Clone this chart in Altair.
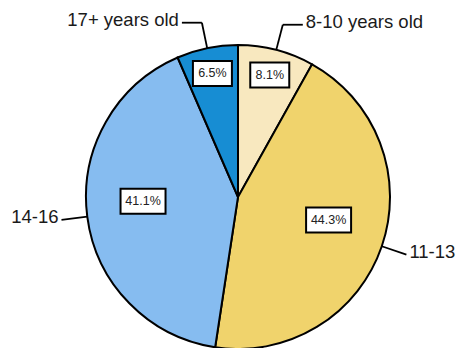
import altair as alt
import pandas as pd

# Age groups, clockwise from 12 o'clock
groups = ["8-10 years old", "11-13", "14-16", "17+ years old"]
shares = [8.1, 44.3, 41.1, 6.5]
colors = ["#F8E8BF", "#F0D36C", "#86BCF0", "#178DD3"]

df = pd.DataFrame({"group": groups, "share": shares, "order": list(range(len(groups)))})

CX, CY, R = 238, 197, 152      # pie centre and radius (px)
LEAD = 26                       # radial length of leader lines
ELBOW = 20                      # horizontal run for labels above the pie
FONT = "Liberation Sans, Arial, sans-serif"

base = alt.Chart(df)

pie = base.mark_arc(radius=R, stroke="black", strokeWidth=2).encode(
    theta=alt.Theta("share:Q", stack=True),
    order=alt.Order("order:Q"),
    color=alt.Color("group:N", scale=alt.Scale(domain=groups, range=colors), legend=None),
    x=alt.value(CX),
    y=alt.value(CY),
)

geo = (
    base.transform_window(cum="sum(share)", sort=[alt.SortField("order")], frame=[None, 0])
    .transform_joinaggregate(total="sum(share)")
    .transform_calculate(a="2*PI*(datum.cum - datum.share/2)/datum.total")
    .transform_calculate(
        ex=f"{CX} + {R}*sin(datum.a)",
        ey=f"{CY} - {R}*cos(datum.a)",
        lx=f"{CX} + {R + LEAD}*sin(datum.a)",
        ly=f"{CY} - {R + LEAD}*cos(datum.a)",
        dir="sin(datum.a) >= 0 ? 1 : -1",
        rf="datum.share < 20 ? 0.83 : 0.63",
        lift="datum.share < 20 ? 0 : 8",
        pct="format(datum.share, '.1f') + '%'",
    )
    .transform_calculate(
        hx=f"datum.lx + datum.dir*(abs(cos(datum.a)) > 0.7 ? {ELBOW} : 0)",
        bx=f"{CX} + {R}*datum.rf*sin(datum.a)",
        by=f"{CY} - {R}*datum.rf*cos(datum.a) - datum.lift",
        bw="15 + 6*length(datum.pct)",
    )
    .transform_calculate(
        tx="datum.hx + datum.dir*3",
        bx0="datum.bx - datum.bw/2",
        bx1="datum.bx + datum.bw/2",
        by0="datum.by - 12.5",
        by1="datum.by + 12.5",
    )
)

def px(field):
    return alt.X(f"{field}:Q", scale=None)

def py(field):
    return alt.Y(f"{field}:Q", scale=None)

radial = geo.mark_rule(color="black", strokeWidth=1.8).encode(
    x=px("ex"), y=py("ey"), x2="lx:Q", y2="ly:Q"
)
elbow = geo.mark_rule(color="black", strokeWidth=1.8).encode(
    x=px("lx"), y=py("ly"), x2="hx:Q", y2="ly:Q"
)

name_right = geo.transform_filter("datum.dir > 0").mark_text(
    align="left", baseline="middle", dy=-3, fontSize=18.5, font=FONT, color="#1a1a1a"
).encode(x=px("tx"), y=py("ly"), text="group:N")
name_left = geo.transform_filter("datum.dir < 0").mark_text(
    align="right", baseline="middle", dy=-3, fontSize=18.5, font=FONT, color="#1a1a1a"
).encode(x=px("tx"), y=py("ly"), text="group:N")

boxes = geo.mark_rect(fill="white", stroke="black", strokeWidth=2).encode(
    x=px("bx0"), x2="bx1:Q", y=py("by0"), y2="by1:Q"
)
pct_text = geo.mark_text(
    align="center", baseline="middle", fontSize=12.5, font=FONT, color="#222222"
).encode(x=px("bx"), y=py("by"), text="pct:N")

chart = (
    alt.layer(pie, radial, elbow, name_right, name_left, boxes, pct_text)
    .properties(width=456, height=348, autosize=alt.AutoSizeParams(type="none"), padding=0)
    .configure_view(stroke=None)
)

chart.save("out.html", embed_options={"renderer": "svg", "actions": False})
